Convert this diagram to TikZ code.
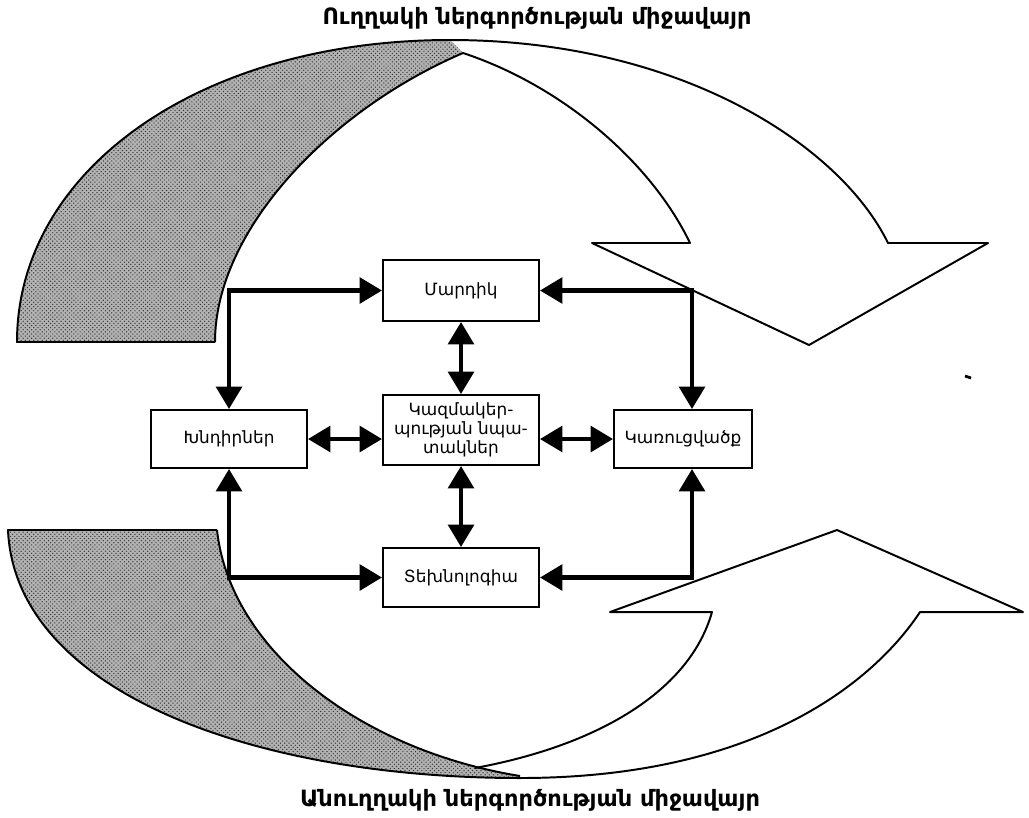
\documentclass[tikz,border=0pt]{standalone}
\usepackage{fontspec}
\setmainfont{DejaVu Sans}
\usetikzlibrary{arrows.meta,calc,patterns}
\begin{document}
\begin{tikzpicture}[x=0.025cm,y=-0.025cm,
  box/.style={draw,line width=1.4pt,fill=white,align=center,inner sep=0pt,font=\fontsize{12}{13.5}\selectfont},
  conn/.style={line width=3pt,{Triangle[length=0.56cm,width=0.64cm]}-{Triangle[length=0.56cm,width=0.64cm]}},
  ribbon/.style={line width=1.4pt,line join=round},
  shade/.style={fill=black!30,postaction={pattern=crosshatch dots,pattern color=black!80}},
  title/.style={inner sep=0pt,font=\fontsize{16}{18}\selectfont\bfseries}]
\useasboundingbox (0,0) rectangle (1029,817);

% top ribbon
\path[shade] (17,342) -- (215,342) .. controls (215,230) and (330,110) .. (463,53) -- (450,40) .. controls (200,40) and (17,170) .. (17,342) -- cycle;
\draw[ribbon] (215,342) -- (17,342) .. controls (17,170) and (200,40) .. (450,40) .. controls (680,40) and (840,145) .. (888,243) -- (988,243) -- (809,345) -- (592,243) -- (690,243) .. controls (650,160) and (560,85) .. (463,53) .. controls (330,110) and (215,230) .. (215,342);

% bottom ribbon
\path[shade] (8,530) -- (217,530) .. controls (230,650) and (360,750) .. (520,776) -- (520,778) .. controls (250,778) and (15,690) .. (8,530) -- cycle;
\draw[ribbon] (217,530) -- (8,530) .. controls (15,690) and (250,778) .. (520,778) .. controls (760,778) and (875,680) .. (920,612) -- (1023,612) -- (837,530) -- (610,612) -- (712,612) .. controls (690,690) and (600,745) .. (475,768);
\draw[ribbon] (217,530) .. controls (230,650) and (360,750) .. (520,776);

% speck
\draw[line width=2pt] (965,376) -- (971,378);

% boxes
\node[box,minimum width=3.9cm,minimum height=1.525cm] (mard) at (461,290.5) {Մարդիկ};
\node[box,minimum width=3.9cm,minimum height=1.75cm] (kazm) at (461,430) {Կազմակեր-\\պության նպա-\\տակներ};
\node[box,minimum width=3.9cm,minimum height=1.45cm] (khn) at (229,439) {Խնդիրներ};
\node[box,minimum width=3.45cm,minimum height=1.45cm] (karu) at (683,439) {Կառուցվածք};
\node[box,minimum width=3.9cm,minimum height=1.475cm] (tekh) at (461,577.5) {Տեխնոլոգիա};

\coordinate (kn) at ($(karu.north)+(9,0)$);
\coordinate (ks) at ($(karu.south)+(9,0)$);

% connectors
\draw[conn] (mard.west) -| (khn.north);
\draw[conn] (mard.east) -| (kn);
\draw[conn] (khn.south) |- (tekh.west);
\draw[conn] (ks) |- (tekh.east);
\draw[conn] (mard.south) -- (kazm.north);
\draw[conn] (kazm.south) -- (tekh.north);
\draw[conn] (khn.east) -- (khn.east -| kazm.west);
\draw[conn] (karu.west) -- (karu.west -| kazm.east);

% titles
\node[title] (t1) at (537,18) {Ուղղակի ներգործության միջավայր};
\node[title] (t2) at (530,800) {Անուղղակի ներգործության միջավայր};
\end{tikzpicture}
\end{document}
